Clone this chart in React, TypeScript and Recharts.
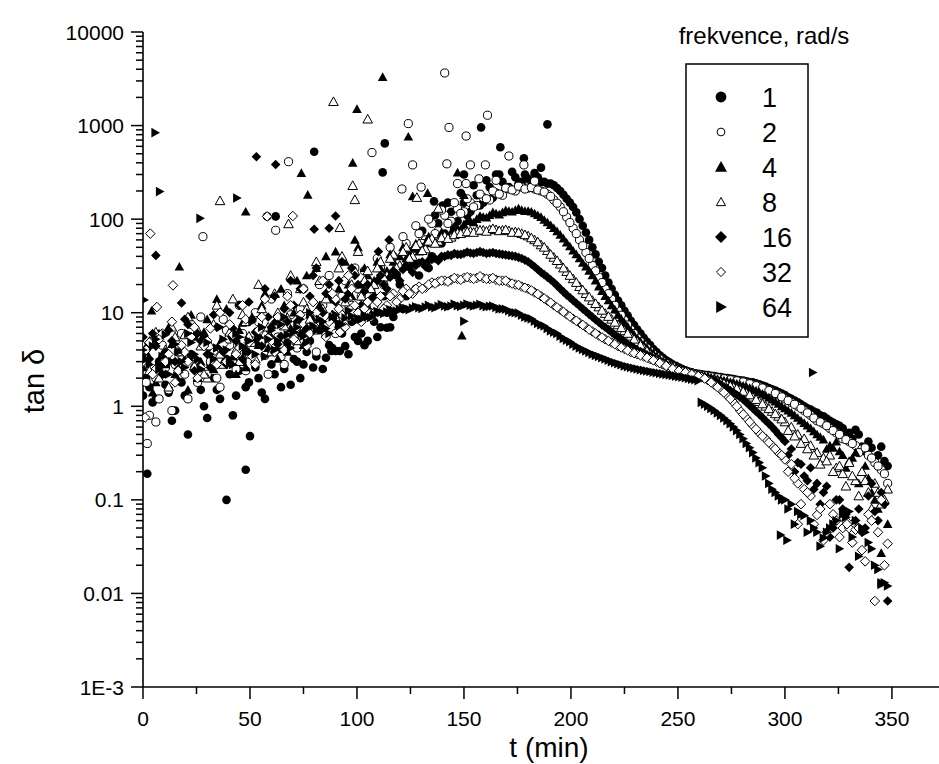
import React from 'react'
import { ScatterChart, Scatter, XAxis, YAxis, Legend } from 'recharts'

const FONT = "'Liberation Sans', Arial, sans-serif"

// measurement times, min (first pass of each sweep)
const minutes = [
  0, 3, 6, 9, 12, 15, 18, 21, 24, 27, 30, 33, 36, 39, 42, 45, 48, 51, 54, 57,
  60, 63, 66, 69, 72, 75, 78, 81, 84, 87, 90, 93, 96, 99,
  102, 105, 108, 111, 114, 117, 120, 123, 126, 129, 132, 135, 138, 141, 144, 147,
  150, 153, 156, 159, 162, 165, 168, 171, 174, 177, 180, 183, 186, 189, 192, 195,
  198, 201, 204, 207, 210, 213, 216, 219, 222, 225, 228, 231, 234, 237, 240, 243,
  246, 249, 252, 255, 258, 261, 264, 267, 270, 273, 276, 279, 282, 285, 288, 291,
  294, 297, 300,
  303, 306, 309, 312, 315, 318, 321, 324, 327, 330, 333, 336, 339, 342, 345, 348,
]
// second pass, half a step later
const minutesMid = [
  1.5, 4.5, 7.5, 10.5, 13.5, 16.5, 19.5, 22.5, 25.5, 28.5, 31.5, 34.5, 37.5, 40.5, 43.5, 46.5,
  49.5, 52.5, 55.5, 58.5, 61.5, 64.5, 67.5, 70.5, 73.5, 76.5, 79.5, 82.5, 85.5, 88.5, 91.5, 94.5,
  97.5, 100.5,
  103.5, 106.5, 109.5, 112.5, 115.5, 118.5, 121.5, 124.5, 127.5, 130.5, 133.5, 136.5, 139.5,
  142.5, 145.5, 148.5, 151.5, 154.5, 157.5, 160.5, 163.5, 166.5, 169.5, 172.5, 175.5, 178.5,
  181.5, 184.5, 187.5, 190.5, 193.5, 196.5, 199.5, 202.5, 205.5, 208.5, 211.5, 214.5, 217.5,
  220.5, 223.5, 226.5, 229.5, 232.5, 235.5, 238.5, 241.5, 244.5, 247.5, 250.5, 253.5, 256.5,
  259.5, 262.5, 265.5, 268.5, 271.5, 274.5, 277.5, 280.5, 283.5, 286.5, 289.5, 292.5, 295.5, 298.5,
  301.5, 304.5, 307.5, 310.5, 313.5, 316.5, 319.5, 322.5, 325.5, 328.5, 331.5, 334.5, 337.5,
  340.5, 343.5, 346.5,
]

// tan delta, 1 rad/s
const tan1 = [
  1.3, 1.6, 1.2, 2.2, 1.4, 0.9, 1.8, 0.5, 2.6, 1.5, 0.75, 2.0, 1.2, 3.2, 0.8, 2.4, 1.6,
  3.5, 2.0, 1.2, 2.8, 4.0, 2.5, 1.7, 3.0, 2.8, 5.0, 3.4, 2.5, 4.5, 3.9, 6.0, 3.6, 5.5,
  6, 5, 8, 7, 10, 9, 20, 15, 35, 25,
  60, 40, 90, 70, 120, 95, 150, 120, 180, 150,
  220, 190, 250, 220, 280, 250, 270, 260, 250, 240,
  230, 200, 165, 135, 100, 72, 50, 35, 25, 18,
  13.5, 10.5, 8.2, 6.6, 5.4, 4.5, 3.8, 3.3, 2.95, 2.7,
  2.5, 2.35, 2.25, 2.2, 2.15, 2.1, 2.05, 2.0, 1.95, 1.9,
  1.85, 1.8, 1.72, 1.62, 1.52, 1.42, 1.32,
  1.2, 1.1, 1.0, 0.92, 0.85, 0.78, 0.7, 0.64, 0.58, 0.52, 0.56, 0.37, 0.42, 0.28, 0.37, 0.23,
]
const tan1Mid = [
  2.0, 1.1, 3.0, 1.7, 0.7, 2.4, 1.3, 3.6, 1.9, 1.0, 2.8, 1.5, 4.2, 2.2, 1.3, 3.0, 1.8,
  2.6, 1.4, 3.8, 2.2, 1.6, 4.8, 3.2, 2.0, 3.8, 2.6, 6.5, 3.3, 4.2, 7.0, 4.4, 8.0, 5.0,
  4.5, 12, 5.5, 15, 7, 25, 11, 45, 18, 75,
  30, 110, 55, 150, 80, 190, 110, 230, 140, 260,
  170, 300, 210, 320, 240, 300, 255, 280, 250, 240,
  215, 182, 150, 118, 85, 60, 42, 30, 21, 15.5,
  12, 9.3, 7.4, 6.0, 4.9, 4.1, 3.5, 3.1, 2.8, 2.6,
  2.42, 2.3, 2.22, 2.17, 2.12, 2.07, 2.02, 1.98, 1.92, 1.88,
  1.82, 1.76, 1.67, 1.57, 1.47, 1.37,
  1.25, 1.15, 1.05, 0.95, 0.88, 0.8, 0.74, 0.67, 0.62, 0.48, 0.45, 0.5, 0.33, 0.36, 0.3, 0.26,
]
const tan2 = [
  3.5, 0.8, 2.0, 4.5, 1.5, 2.8, 6.0, 1.2, 3.2, 9.0, 2.2, 4.0, 1.6, 6.5, 3.0, 12, 2.4,
  5.0, 8.0, 3.5, 14, 5.5, 2.8, 9.5, 4.2, 18, 7.0, 3.8, 12, 25, 6.0, 15, 9.0, 30,
  15, 22, 12, 30, 25, 40, 35, 55, 45, 70,
  60, 90, 75, 110, 95, 130, 120, 150, 140, 170,
  160, 190, 180, 210, 200, 220, 215, 210, 200, 185,
  160, 135, 105, 80, 60, 44, 32, 24, 18, 14,
  10.5, 8.3, 6.6, 5.4, 4.5, 3.9, 3.4, 3.0, 2.75, 2.55,
  2.4, 2.3, 2.22, 2.15, 2.1, 2.05, 2.0, 1.95, 1.9, 1.85,
  1.78, 1.7, 1.62, 1.52, 1.42, 1.32, 1.2,
  1.1, 1.0, 0.9, 0.8, 0.7, 0.65, 0.58, 0.52, 0.45, 0.42, 0.38, 0.35, 0.3, 0.25, 0.21, 0.15,
]
const tan2Mid = [
  1.8, 5.0, 1.2, 2.6, 0.9, 3.8, 2.2, 7.5, 1.8, 4.8, 3.0, 2.0, 8.5, 4.5, 2.5, 6.0, 3.6,
  10, 4.8, 2.2, 7.5, 3.4, 16, 6.0, 11, 4.6, 9.0, 20, 5.8, 14, 8.0, 22, 12, 18,
  28, 18, 38, 20, 50, 30, 65, 40, 85, 55,
  100, 70, 125, 90, 150, 115, 165, 135, 185, 165,
  200, 185, 215, 205, 225, 210, 218, 205, 195, 175,
  148, 120, 92, 70, 52, 38, 28, 21, 16, 12,
  9.4, 7.4, 6.0, 4.9, 4.2, 3.6, 3.2, 2.87, 2.65, 2.47,
  2.35, 2.26, 2.18, 2.12, 2.07, 2.02, 1.97, 1.92, 1.87, 1.82,
  1.74, 1.66, 1.57, 1.47, 1.37, 1.26,
  1.15, 1.05, 0.95, 0.85, 0.75, 0.68, 0.62, 0.55, 0.5, 0.44, 0.4, 0.32, 0.36, 0.28, 0.23, 0.19,
]
const tan4 = [
  2.6, 5.0, 1.8, 3.6, 7.0, 2.2, 4.2, 1.5, 5.5, 3.0, 8.5, 2.5, 4.8, 11, 3.4, 6.5, 2.6,
  9.0, 4.5, 16, 5.5, 3.2, 12, 6.8, 22, 4.5, 9.5, 30, 7.0, 14, 45, 10, 20, 60,
  20, 25, 22, 30, 28, 35, 40, 38, 48, 45,
  55, 60, 58, 68, 72, 80, 88, 95, 100, 105,
  110, 115, 118, 122, 125, 125, 122, 115, 105, 92,
  80, 68, 56, 46, 38, 31, 25, 19, 15, 12,
  9.5, 7.8, 6.4, 5.3, 4.5, 3.9, 3.4, 3.0, 2.75, 2.55,
  2.42, 2.32, 2.23, 2.15, 2.07, 2.0, 1.92, 1.85, 1.78, 1.7,
  1.62, 1.52, 1.42, 1.3, 1.18, 1.06, 0.95,
  0.85, 0.75, 0.66, 0.58, 0.5, 0.44, 0.38, 0.42, 0.3, 0.26, 0.32, 0.2, 0.17, 0.1, 0.027, 0.055,
]
const tan4Mid = [
  3.8, 1.4, 6.0, 2.8, 4.6, 1.9, 3.2, 9.5, 2.0, 6.2, 4.0, 14, 3.0, 5.5, 2.2, 7.8, 3.8,
  5.0, 12, 4.2, 8.0, 18, 3.8, 10, 6.0, 25, 8.5, 12, 40, 9.0, 18, 35, 15, 50,
  30, 18, 35, 24, 42, 30, 50, 42, 55, 50,
  65, 56, 72, 66, 84, 78, 95, 92, 108, 104,
  118, 112, 124, 120, 130, 122, 120, 110, 98, 86,
  74, 62, 51, 42, 34, 28, 22, 17, 13.5, 10.8,
  8.6, 7.1, 5.8, 4.9, 4.2, 3.65, 3.2, 2.87, 2.65, 2.48,
  2.37, 2.28, 2.19, 2.11, 2.03, 1.96, 1.88, 1.81, 1.74, 1.66,
  1.57, 1.47, 1.36, 1.24, 1.12, 1.0,
  0.9, 0.8, 0.7, 0.62, 0.54, 0.47, 0.35, 0.36, 0.33, 0.22, 0.28, 0.15, 0.23, 0.12, 0.08, 0.1,
]
const tan8 = [
  4.5, 2.4, 6.2, 3.0, 1.6, 5.5, 3.8, 9.0, 2.7, 4.4, 2.0, 7.5, 3.6, 5.2, 14, 3.0, 8.0,
  4.8, 20, 6.0, 3.8, 10, 7.2, 25, 5.0, 13, 8.5, 35, 11, 18, 9.0, 40, 15, 28,
  15, 28, 20, 35, 25, 42, 32, 50, 40, 55,
  48, 62, 58, 66, 64, 71, 72, 74, 75, 76,
  77, 77, 76, 75, 73, 70, 66, 60, 53, 46,
  39, 33, 27.5, 23, 19, 16, 13.5, 11.5, 9.8, 8.5,
  7.4, 6.4, 5.6, 4.9, 4.2, 3.6, 3.2, 2.9, 2.7, 2.52,
  2.4, 2.28, 2.2, 2.1, 2.0, 1.9, 1.8, 1.7, 1.6, 1.5,
  1.38, 1.25, 1.12, 1.0, 0.88, 0.78, 0.68,
  0.6, 0.5, 0.45, 0.38, 0.32, 0.28, 0.3, 0.22, 0.19, 0.25, 0.16, 0.2, 0.12, 0.15, 0.09, 0.13,
]
const tan8Mid = [
  3.2, 5.0, 2.0, 4.0, 7.0, 2.5, 5.8, 3.4, 6.5, 2.2, 4.4, 12, 2.8, 6.2, 4.0, 9.5, 5.6,
  3.2, 11, 7.0, 16, 4.6, 8.8, 6.0, 18, 11, 6.5, 22, 14, 9.5, 30, 13, 20, 45,
  22, 18, 30, 24, 38, 30, 45, 38, 52, 46,
  58, 55, 63, 62, 68, 70, 73, 72, 76, 74,
  79, 75, 77, 72, 72, 68, 63, 57, 50, 42,
  36, 30, 25, 21, 17.5, 14.7, 12.5, 10.6, 9.1, 7.9,
  6.9, 6.0, 5.2, 4.5, 3.9, 3.4, 3.05, 2.8, 2.6, 2.46,
  2.34, 2.24, 2.15, 2.05, 1.95, 1.85, 1.75, 1.65, 1.55, 1.44,
  1.32, 1.18, 1.06, 0.94, 0.83, 0.73,
  0.55, 0.48, 0.4, 0.35, 0.3, 0.24, 0.26, 0.2, 0.23, 0.14, 0.18, 0.11, 0.16, 0.08, 0.12, 0.1,
]
const tan16 = [
  5.5, 3.2, 4.4, 2.2, 6.5, 3.0, 4.0, 7.5, 2.4, 5.0, 3.6, 9.5, 4.4, 2.8, 6.8, 12, 4.0,
  8.5, 5.5, 18, 7.0, 4.6, 11, 22, 8.0, 6.2, 15, 30, 10, 20, 13, 35, 16, 25,
  12, 20, 15, 25, 18, 28, 22, 32, 27, 34,
  31, 37, 36, 40, 41, 42, 43, 43.5, 44, 44,
  43.5, 43, 42, 41, 40, 38, 35, 31, 27, 24,
  21, 18, 15.5, 13.5, 11.8, 10.3, 9, 7.9, 7, 6.2,
  5.5, 4.9, 4.4, 4, 3.7, 3.4, 3.1, 2.85, 2.65, 2.5,
  2.38, 2.28, 2.2, 2.1, 2.0, 1.85, 1.7, 1.55, 1.4, 1.25,
  1.1, 0.95, 0.82, 0.7, 0.6, 0.5, 0.42,
  0.35, 0.25, 0.18, 0.22, 0.15, 0.12, 0.04, 0.1, 0.08, 0.019, 0.06, 0.045, 0.11, 0.075, 0.12, 0.0083,
]
const tan16Mid = [
  4.2, 6.0, 2.8, 3.8, 5.0, 2.5, 8.5, 3.4, 6.0, 4.6, 2.6, 7.0, 3.8, 10, 5.0, 3.2, 13,
  6.2, 4.4, 9.0, 15, 5.6, 8.0, 12, 18, 6.8, 25, 11, 16, 8.5, 22, 14, 30, 20,
  17, 14, 22, 20, 24, 26, 29, 30, 32, 35,
  36, 38, 40, 41.5, 43, 42, 44.5, 43, 45, 43,
  44, 42.5, 41.5, 40.5, 39, 36.5, 33, 29, 25.5, 22.5,
  19.5, 16.7, 14.5, 12.6, 11, 9.6, 8.4, 7.4, 6.6, 5.8,
  5.2, 4.6, 4.2, 3.85, 3.55, 3.25, 2.97, 2.75, 2.57, 2.44,
  2.33, 2.24, 2.15, 2.05, 1.92, 1.78, 1.62, 1.47, 1.32, 1.18,
  1.02, 0.88, 0.76, 0.65, 0.55, 0.46,
  0.3, 0.2, 0.24, 0.16, 0.13, 0.09, 0.14, 0.05, 0.1, 0.07, 0.035, 0.08, 0.05, 0.15, 0.06, 0.09,
]
const tan32 = [
  3.0, 4.8, 2.5, 6.0, 3.6, 1.8, 4.5, 3.0, 7.0, 2.6, 5.0, 3.8, 10, 3.0, 5.8, 4.2, 8.5,
  3.4, 6.5, 14, 5.0, 9.0, 4.0, 12, 7.0, 18, 6.0, 10, 22, 8.0, 14, 9.5, 25, 12,
  8, 13, 10, 15, 12, 16, 14, 18, 16, 19,
  18.5, 21, 21.5, 22, 22.5, 23, 23.5, 23.5, 23.5, 23.5,
  23, 22.5, 22, 21, 20, 19, 18, 16.5, 15, 13.5,
  12, 10.8, 9.6, 8.6, 7.8, 7, 6.3, 5.7, 5.2, 4.8,
  4.4, 4.1, 3.8, 3.6, 3.4, 3.2, 3.0, 2.8, 2.6, 2.45,
  2.35, 2.25, 2.15, 2.05, 1.9, 1.7, 1.5, 1.3, 1.1, 0.9,
  0.75, 0.62, 0.52, 0.45, 0.38, 0.32, 0.27,
  0.24, 0.15, 0.13, 0.11, 0.069, 0.037, 0.09, 0.06, 0.05, 0.05, 0.048, 0.029, 0.07, 0.0083, 0.1, 0.034,
]
const tan32Mid = [
  4.0, 2.2, 5.2, 3.0, 8.0, 2.4, 3.8, 5.5, 2.0, 4.4, 6.8, 2.8, 4.6, 7.5, 3.6, 12, 4.8,
  2.8, 9.0, 5.4, 3.8, 7.5, 15, 5.2, 9.5, 4.4, 13, 8.0, 5.5, 16, 11, 7.0, 18, 10,
  11, 9, 13, 11, 15, 13, 17, 16, 18, 18,
  20, 20.5, 22, 21.5, 23.5, 22.5, 24, 23, 24.5, 23,
  23.5, 22, 22, 20.5, 19.8, 18.5, 17.3, 15.8, 14.2, 12.8,
  11.4, 10.2, 9.1, 8.2, 7.4, 6.6, 6.0, 5.45, 5.0, 4.6,
  4.25, 3.95, 3.7, 3.5, 3.3, 3.1, 2.9, 2.7, 2.52, 2.4,
  2.3, 2.2, 2.1, 1.98, 1.8, 1.6, 1.4, 1.2, 1.0, 0.82,
  0.68, 0.57, 0.48, 0.41, 0.35, 0.3,
  0.2, 0.17, 0.09, 0.12, 0.055, 0.08, 0.045, 0.07, 0.04, 0.06, 0.035, 0.05, 0.022, 0.06, 0.045, 0.02,
]
const tan64 = [
  4.0, 2.8, 5.2, 3.4, 2.2, 4.6, 3.0, 6.0, 3.6, 2.5, 4.8, 3.2, 7.0, 4.0, 2.8, 5.5, 3.8,
  8.0, 4.6, 3.4, 6.5, 5.0, 9.0, 4.2, 7.0, 5.6, 10, 6.5, 8.0, 6.0, 9.5, 7.5, 10.5, 8.0,
  8.5, 9, 9.5, 10, 10.2, 10.5, 10.8, 11, 11.2, 11.3,
  11.5, 11.5, 11.7, 11.8, 11.8, 11.9, 12, 12, 12, 11.9,
  11.7, 11.4, 11, 10.5, 10, 9.4, 8.8, 8.1, 7.4, 6.8,
  6.2, 5.6, 5.1, 4.6, 4.2, 3.9, 3.6, 3.4, 3.2, 3.0,
  2.85, 2.7, 2.6, 2.5, 2.42, 2.35, 2.28, 2.22, 2.16, 2.1,
  2.05, 1.98, 1.92, 1.1, 1.0, 0.9, 0.8, 0.7, 0.6, 0.5,
  0.4, 0.32, 0.25, 0.18, 0.13, 0.11, 0.1,
  0.09, 0.075, 0.068, 0.06, 0.045, 0.039, 0.05, 0.06, 0.07, 0.075, 0.06, 0.05, 0.035, 0.02, 0.013, 0.012,
]
const tan64Mid = [
  3.2, 4.4, 2.5, 5.8, 3.0, 3.8, 2.6, 4.8, 3.2, 5.6, 3.6, 4.2, 5.2, 3.0, 6.0, 4.4, 5.0,
  3.6, 7.0, 5.2, 4.0, 7.5, 5.8, 6.2, 8.5, 4.8, 7.2, 8.5, 6.8, 9.0, 7.6, 8.8, 9.2, 8.6,
  9.4, 8.9, 10.3, 9.8, 10.8, 10.4, 11.3, 10.8, 11.6, 11.1,
  12, 11.3, 12.2, 11.6, 12.4, 11.7, 12.4, 11.8, 12.3, 11.6,
  11.8, 11, 10.9, 10.1, 9.9, 9.0, 8.6, 7.7, 7.2, 6.4,
  6.0, 5.3, 4.9, 4.4, 4.05, 3.75, 3.5, 3.3, 3.1, 2.92,
  2.78, 2.65, 2.55, 2.46, 2.38, 2.31, 2.25, 2.19, 2.13, 2.07,
  2.02, 1.95, 1.88, 1.05, 0.95, 0.85, 0.75, 0.65, 0.55, 0.45,
  0.36, 0.28, 0.22, 0.15, 0.12, 0.1,
  0.08, 0.055, 0.07, 0.045, 0.05, 0.032, 0.045, 0.055, 0.03, 0.065, 0.04, 0.025, 0.045, 0.03, 0.018, 0.013,
]

// stray points off the sweep grid: [t, tan delta]
const stray1 = [
  [2, 0.19], [39, 0.1], [48, 0.21], [50, 0.48], [80, 525], [113, 645], [112, 316], [58, 107],
  [62, 107], [158, 955], [189, 1030], [167, 586], [178, 447], [186, 355], [114, 6.9], [88, 3.9],
  [92, 3.9], [136, 155], [140, 140], [150, 300], [165, 300], [183, 310],
]
const stray2 = [
  [2, 0.4], [6, 0.68], [141, 3650], [161, 1290], [124, 1050], [143, 955], [151, 773], [107, 515],
  [68, 411], [171, 473], [126, 380], [142, 390], [153, 380], [160, 380], [178, 380], [28, 65],
  [62, 76], [121, 210], [130, 220], [147, 240], [151, 240], [157, 270], [165, 260], [183, 255],
]
const stray4 = [
  [112, 3300], [100, 1500], [124, 760], [98, 400], [74, 310], [77, 182], [48, 120], [17, 31],
  [4, 10.5], [147, 314], [149, 5.7], [126, 175], [133, 190], [150, 180],
]
const stray8 = [
  [89, 1800], [105, 1170], [98, 228], [99, 161], [36, 157], [68, 89], [92, 81], [128, 170], [138, 130],
]
const stray16 = [
  [53, 465], [62, 383], [6, 41], [18, 12.7], [90, 108], [80, 78], [87, 80], [110, 45], [115, 60],
]
const stray32 = [
  [3.4, 70], [14, 19.6], [6.5, 11.5], [58, 107], [70, 108], [92, 6.2], [1, 0.76], [306, 0.055], [329, 0.055],
]
const stray64 = [
  [5.7, 840], [7.8, 197], [26.7, 102], [43.9, 168], [0.6, 13.7], [150, 8.1], [298, 0.042],
  [301, 0.037], [313, 2.3], [345, 0.0125],
]

const freqNames = ['1', '2', '4', '8', '16', '32', '64']
const xTicks = [0, 25, 50, 75, 100, 125, 150, 175, 200, 225, 250, 275, 300, 325, 350]
const yMajor = [0.001, 0.01, 0.1, 1, 10, 100, 1000, 10000]
const yLabels = ['1E-3', '0.01', '0.1', '1', '10', '100', '1000', '10000']
const yTicks = [
  ...yMajor,
  ...yMajor.slice(0, -1).flatMap((m) => [2, 3, 4, 5, 6, 7, 8, 9].map((k) => m * k)),
]

type Kind = 'dot' | 'ring' | 'tri' | 'triOpen' | 'dia' | 'diaOpen' | 'right'

const series: { name: string; vals: number[]; mid: number[]; stray: number[][]; kind: Kind }[] = [
  { name: freqNames[0], vals: tan1, mid: tan1Mid, stray: stray1, kind: 'dot' },
  { name: freqNames[1], vals: tan2, mid: tan2Mid, stray: stray2, kind: 'ring' },
  { name: freqNames[2], vals: tan4, mid: tan4Mid, stray: stray4, kind: 'tri' },
  { name: freqNames[3], vals: tan8, mid: tan8Mid, stray: stray8, kind: 'triOpen' },
  { name: freqNames[4], vals: tan16, mid: tan16Mid, stray: stray16, kind: 'dia' },
  { name: freqNames[5], vals: tan32, mid: tan32Mid, stray: stray32, kind: 'diaOpen' },
  { name: freqNames[6], vals: tan64, mid: tan64Mid, stray: stray64, kind: 'right' },
]

const toPoints = (vals: number[], mid: number[], stray: number[][]) => [
  ...vals.map((v, i) => ({ t: minutes[i], v })),
  ...mid.map((v, i) => ({ t: minutesMid[i], v })),
  ...stray.map(([t, v]) => ({ t, v })),
]

const isOpen = (k: Kind) => k === 'ring' || k === 'triOpen' || k === 'diaOpen'

function Mark({ kind, cx, cy, k = 1 }: { kind: Kind; cx: number; cy: number; k?: number }) {
  const s = 4.8 * k
  switch (kind) {
    case 'dot':
      return <circle cx={cx} cy={cy} r={s * 0.9} fill="#000" />
    case 'ring':
      return <circle cx={cx} cy={cy} r={s * 0.85} fill="#fff" stroke="#000" strokeWidth={1} />
    case 'tri':
      return <polygon points={`${cx},${cy - s} ${cx + s},${cy + s * 0.8} ${cx - s},${cy + s * 0.8}`} fill="#000" />
    case 'triOpen':
      return (
        <polygon
          points={`${cx},${cy - s} ${cx + s},${cy + s * 0.8} ${cx - s},${cy + s * 0.8}`}
          fill="#fff" stroke="#000" strokeWidth={1}
        />
      )
    case 'dia':
      return <polygon points={`${cx},${cy - s} ${cx + s},${cy} ${cx},${cy + s} ${cx - s},${cy}`} fill="#000" />
    case 'diaOpen':
      return (
        <polygon
          points={`${cx},${cy - s} ${cx + s},${cy} ${cx},${cy + s} ${cx - s},${cy}`}
          fill="#fff" stroke="#000" strokeWidth={1}
        />
      )
    default:
      return <polygon points={`${cx - s * 0.8},${cy - s} ${cx + s},${cy} ${cx - s * 0.8},${cy + s}`} fill="#000" />
  }
}

const XTick = ({ x, y, payload }: any) => {
  const major = payload.value % 50 === 0
  return (
    <g>
      <line x1={x} x2={x} y1={y} y2={y + (major ? 12 : 7)} stroke="#000" strokeWidth={1.5} />
      {major && (
        <text x={x} y={y + 31} dy="0.36em" textAnchor="middle" fontSize={21} fontFamily={FONT} fill="#000">
          {payload.value}
        </text>
      )}
    </g>
  )
}

const YTick = ({ x, y, payload }: any) => {
  const idx = yMajor.indexOf(payload.value)
  const major = idx >= 0
  return (
    <g>
      <line x1={x - (major ? 12 : 7)} x2={x} y1={y} y2={y} stroke="#000" strokeWidth={1.5} />
      {major && (
        <text x={x - 19} y={y} dy="0.36em" textAnchor="end" fontSize={21} fontFamily={FONT} fill="#000">
          {yLabels[idx]}
        </text>
      )}
    </g>
  )
}

const LegendBox = () => (
  <svg width={200} height={340} style={{ display: 'block', overflow: 'visible' }}>
    <text x={94} y={34} textAnchor="middle" fontSize={24} fontFamily={FONT} fill="#000">
      frekvence, rad/s
    </text>
    <rect x={16} y={54} width={122} height={273} fill="#fff" stroke="#000" strokeWidth={1.5} />
    {series.map((s, i) => (
      <g key={s.name}>
        <Mark kind={s.kind} cx={51} cy={87 + i * 35} k={isOpen(s.kind) ? 0.95 : 1.25} />
        <text x={92} y={87 + i * 35} dy="0.36em" fontSize={27} fontFamily={FONT} fill="#000">
          {s.name}
        </text>
      </g>
    ))}
  </svg>
)

export default function App() {
  return (
    <div style={{ width: 939, height: 764, background: '#fff' }}>
      <style>{'body{margin:0}'}</style>
      <ScatterChart width={939} height={764} margin={{ top: 32, right: 0, bottom: 0, left: 0 }}>
        <XAxis
          type="number"
          dataKey="t"
          domain={[0, 372]}
          ticks={xTicks}
          interval={0}
          height={77}
          tickSize={0}
          tickMargin={0}
          tickLine={false}
          allowDataOverflow
          axisLine={{ stroke: '#000', strokeWidth: 1.6 }}
          tick={(p: any) => <XTick {...p} />}
          label={() => (
            <text x={549} y={757} textAnchor="middle" fontSize={28} fontFamily={FONT} fill="#000">
              t (min)
            </text>
          )}
        />
        <YAxis
          type="number"
          dataKey="v"
          scale="log"
          domain={[0.001, 10000]}
          ticks={yTicks}
          interval={0}
          width={143}
          tickSize={0}
          tickMargin={0}
          tickLine={false}
          allowDataOverflow
          axisLine={{ stroke: '#000', strokeWidth: 1.6 }}
          tick={(p: any) => <YTick {...p} />}
          label={() => (
            <text
              x={44}
              y={381}
              transform="rotate(-90 44 381)"
              textAnchor="middle"
              fontSize={29}
              fontFamily={FONT}
              fill="#000"
            >
              tan δ
            </text>
          )}
        />
        <Legend
          layout="horizontal"
          verticalAlign="middle"
          align="center"
          content={() => <LegendBox />}
          wrapperStyle={{ position: 'absolute', left: 670, top: 10, width: 200, height: 340 }}
        />
        {series.map((s) => (
          <Scatter
            key={s.name}
            name={s.name}
            data={toPoints(s.vals, s.mid, s.stray)}
            dataKey="v"
            isAnimationActive={false}
            shape={(p: any) => <Mark kind={s.kind} cx={p.cx} cy={p.cy} />}
          />
        ))}
      </ScatterChart>
    </div>
  )
}
